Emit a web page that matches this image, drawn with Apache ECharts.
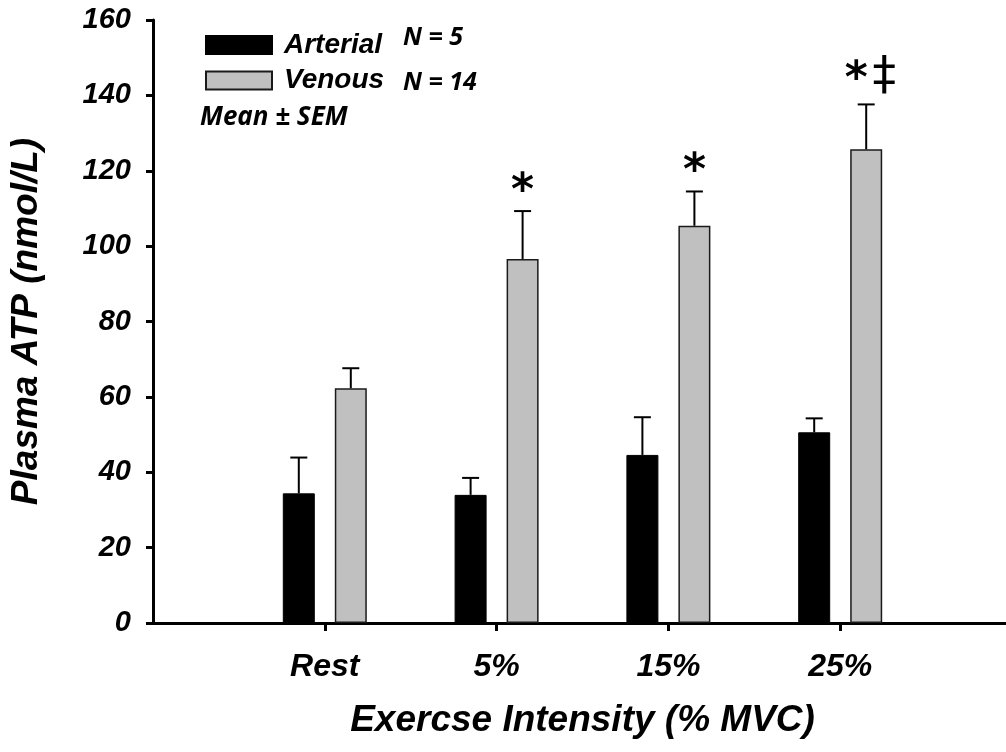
<!DOCTYPE html>
<html>
<head>
<meta charset="utf-8">
<script src="https://cdn.jsdelivr.net/npm/echarts@6/dist/echarts.min.js"></script>
<style>
  html, body { margin: 0; padding: 0; background: #fff; overflow: hidden; }
  /* the x axis runs past the right edge of the figure, so the canvas is a bit wider than the window */
  #chart { width: 1015px; height: 752px; }
</style>
</head>
<body>
<div id="chart"></div>
<script>
// data
var categories = ['', 'Rest', '5%', '15%', '25%', ''];
var arterialMean = [34.4, 34.0, 44.6, 50.6];
var arterialSem = [9.5, 4.5, 10.0, 3.7];
var venousMean = [62.3, 96.6, 105.4, 125.7];
var venousSem = [5.3, 12.7, 9.1, 11.9];
var venousMarks = [[], ['*'], ['*'], ['*', '\u2021']];

var FONT = '"Liberation Sans", Arial, sans-serif';
var NOTE_FONT = 'italic bold 25px "Noto Sans", sans-serif';
var BAR_W = 32;
var BAR_GAP = 20;
var OFFSET = (BAR_W + BAR_GAP) / 2;

function padSeries(values){
  var out = ['-'];
  for(var i=0;i<values.length;i++){
    out.push(values[i]);
  }
  out.push('-');
  return out;
}

function errData(means, sems){
  var out = [];
  for(var i=0;i<means.length;i++){
    out.push([i+1, means[i], sems[i]]);
  }
  return out;
}

function errorBars(offset, marks){
  return function(params, api){
    var x = api.value(0), m = api.value(1), s = api.value(2);
    var base = api.coord([x, m]);
    var top = api.coord([x, m + s]);
    var cx = base[0] + offset;
    var children = [
      {type:'line', shape:{x1:cx, y1:base[1], x2:cx, y2:top[1]}, style:{stroke:'#000', lineWidth:2}},
      {type:'line', shape:{x1:cx-8.5, y1:top[1], x2:cx+8.5, y2:top[1]}, style:{stroke:'#000', lineWidth:2}}
    ];
    var list = marks ? marks[params.dataIndex] : [];
    for(var j=0;j<list.length;j++){
      var dx = list.length > 1 ? (j == 0 ? -10 : 18) : 0;
      var isStar = list[j] == '*';
      var dy = isStar ? (list.length > 1 ? -24 : -19) : -28;
      children.push({
        type:'text',
        style:{
          x: cx + dx, y: top[1] + dy,
          text: list[j],
          fill:'#000',
          font: (isStar ? 'bold 44px ' : 'normal 47px ') + '"DejaVu Sans", sans-serif',
          textAlign:'center', textVerticalAlign:'middle'
        }
      });
    }
    return {type:'group', children:children};
  };
}

var myChart = echarts.init(document.getElementById('chart'));
var option = {
  backgroundColor: '#fff',
  animation: false,
  grid: {
    left: 152,
    top: 20,
    right: 0,
    bottom: 129,
    containLabel: false
  },
  legend: {
    orient: 'vertical',
    left: 200,
    top: 26,
    icon: 'rect',
    itemWidth: 66,
    itemHeight: 18,
    itemGap: 7.5,
    data: ['Arterial', 'Venous'],
    textStyle: {
      fontFamily: FONT, fontSize: 28, fontWeight: 'bold', fontStyle: 'italic',
      color: '#000', lineHeight: 28, padding: [0, 0, 0, 7]
    }
  },
  graphic: [
    {type:'text', x:403, y:38, style:{text:'N = 5', fill:'#000', font:NOTE_FONT, textVerticalAlign:'middle'}},
    {type:'text', x:403, y:83, style:{text:'N = 14', fill:'#000', font:NOTE_FONT, textVerticalAlign:'middle'}},
    {type:'text', x:200, y:118, style:{text:'Mean \u00b1 SEM', fill:'#000', font:'italic bold 26px "Noto Sans", sans-serif', textVerticalAlign:'middle'}}
  ],
  xAxis: {
    type: 'category',
    data: categories,
    boundaryGap: false,
    name: 'Exercse Intensity (% MVC)',
    nameLocation: 'middle',
    nameGap: 79,
    nameTextStyle: {fontFamily: FONT, fontSize: 37, fontWeight: 'bold', fontStyle: 'italic', color: '#000'},
    axisLine: {lineStyle: {color: '#000', width: 3}},
    axisTick: {
      length: 8, lineStyle: {color: '#000', width: 3},
      interval: function(index, value){ return value !== ''; }
    },
    axisLabel: {
      interval: 0, margin: 28,
      fontFamily: FONT, fontSize: 32, fontWeight: 'bold', fontStyle: 'italic', color: '#000'
    },
    splitLine: {show: false}
  },
  yAxis: {
    type: 'value',
    min: 0,
    max: 160,
    interval: 20,
    name: 'Plasma ATP (nmol/L)',
    nameLocation: 'middle',
    nameGap: 108,
    nameTextStyle: {fontFamily: FONT, fontSize: 37, fontWeight: 'bold', fontStyle: 'italic', color: '#000'},
    axisLine: {show: true, lineStyle: {color: '#000', width: 3}},
    axisTick: {show: true, length: 7, lineStyle: {color: '#000', width: 3}},
    axisLabel: {
      margin: 22,
      fontFamily: FONT, fontSize: 29, fontWeight: 'bold', fontStyle: 'italic', color: '#000'
    },
    splitLine: {show: false}
  },
  series: [
    {
      name: 'Arterial', type: 'bar', barWidth: BAR_W, barGap: (BAR_GAP / BAR_W * 100) + '%',
      itemStyle: {color: '#000', borderColor: '#000', borderWidth: 1},
      data: padSeries(arterialMean)
    },
    {
      name: 'Venous', type: 'bar', barWidth: BAR_W,
      itemStyle: {color: '#c0c0c0', borderColor: '#1a1a1a', borderWidth: 1.5},
      data: padSeries(venousMean)
    },
    {
      type: 'custom', name: 'errA', z: 5,
      renderItem: errorBars(-OFFSET, null),
      encode: {x: 0, y: 1},
      data: errData(arterialMean, arterialSem)
    },
    {
      type: 'custom', name: 'errV', z: 5,
      renderItem: errorBars(OFFSET, venousMarks),
      encode: {x: 0, y: 1},
      data: errData(venousMean, venousSem)
    }
  ]
};
myChart.setOption(option);
</script>
</body>
</html>
